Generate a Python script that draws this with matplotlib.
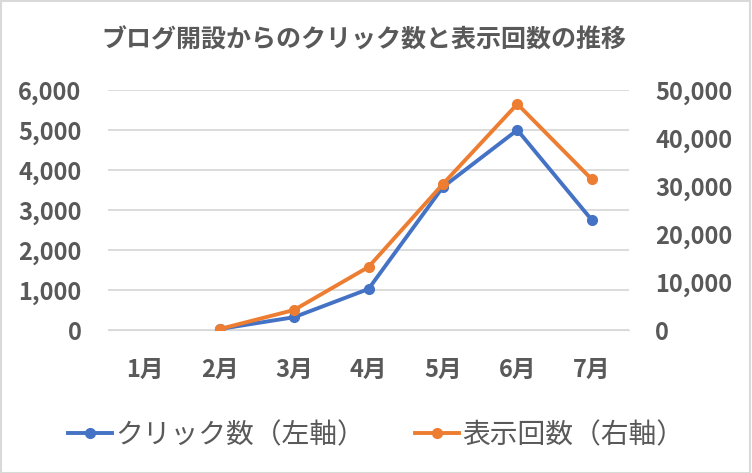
import matplotlib.pyplot as plt
from matplotlib.ticker import FuncFormatter

# Data
months = ["1月", "2月", "3月", "4月", "5月", "6月", "7月"]
clicks = [None, 25, 320, 1025, 3575, 5000, 2750]
impressions = [None, 200, 4170, 13130, 30420, 47080, 31390]

BLUE = "#4472C4"
ORANGE = "#ED7D31"
GRAY = "#595959"
GRID = "#D9D9D9"

plt.rcParams["font.family"] = ["Noto Sans CJK JP", "DejaVu Sans"]


def comma(v, _pos):
    return f"{int(v):,}"


def main() -> None:
    fig = plt.figure(figsize=(7.52, 4.73), dpi=100)
    ax = fig.add_axes([108 / 752, 143 / 473, 521 / 752, 240 / 473])
    ax2 = ax.twinx()

    x = list(range(len(months)))
    cx = [i for i, v in zip(x, clicks) if v is not None]
    cy = [v for v in clicks if v is not None]
    ix = [i for i, v in zip(x, impressions) if v is not None]
    iy = [v for v in impressions if v is not None]

    l1, = ax.plot(cx, cy, color=BLUE, lw=2.8, marker="o", ms=7,
                  label="クリック数（左軸）", zorder=3)
    l2, = ax2.plot(ix, iy, color=ORANGE, lw=2.8, marker="o", ms=7,
                   label="表示回数（右軸）", zorder=3)

    ax.set_xlim(-0.5, len(months) - 0.5)
    ax.set_ylim(0, 6000)
    ax2.set_ylim(0, 50000)
    ax.set_yticks(range(0, 6001, 1000))
    ax2.set_yticks(range(0, 50001, 10000))
    ax.yaxis.set_major_formatter(FuncFormatter(comma))
    ax2.yaxis.set_major_formatter(FuncFormatter(comma))
    ax.set_xticks(x)
    ax.set_xticklabels(months)

    ax.grid(axis="y", color=GRID, lw=1.3)
    ax.set_axisbelow(True)
    for a in (ax, ax2):
        for s in a.spines.values():
            s.set_visible(False)
        a.tick_params(length=0, labelsize=17, labelcolor=GRAY)
        for lab in a.get_yticklabels() + a.get_xticklabels():
            lab.set_fontweight("bold")
    ax.spines["bottom"].set_visible(True)
    ax.spines["bottom"].set_color(GRID)
    ax.tick_params(axis="y", pad=19)
    ax2.tick_params(axis="y", pad=19)
    ax.tick_params(axis="x", pad=20)
    ax2.set_zorder(ax.get_zorder() + 1)

    # Title sits slightly left of centre, as in the original
    fig.text(364 / 752, 1 - 40 / 473, "ブログ開設からのクリック数と表示回数の推移",
             ha="center", va="center", fontsize=18, fontweight="bold",
             color=GRAY)

    fig.legend([l1, l2], [l1.get_label(), l2.get_label()], loc="center",
               bbox_to_anchor=(0.5, 1 - 435 / 473), ncol=2, frameon=False,
               fontsize=20, handlelength=1.6, handletextpad=0.1,
               columnspacing=1.8, labelcolor=GRAY)

    fig.patches.append(plt.Rectangle((0.001, 0.001), 0.997, 0.997, fill=False,
                                     edgecolor=GRID, lw=1.5,
                                     transform=fig.transFigure))

    fig.savefig("out.png", dpi=100)
    plt.close(fig)


if __name__ == "__main__":
    main()
